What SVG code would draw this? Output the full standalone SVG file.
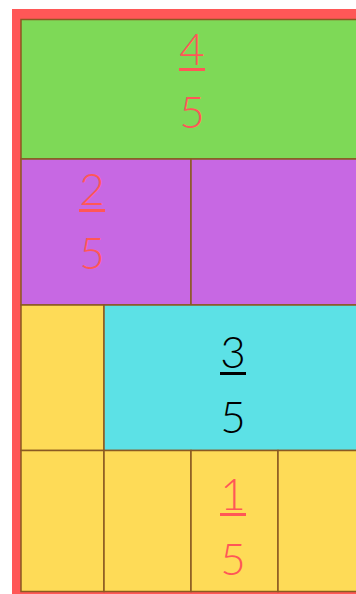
<svg xmlns="http://www.w3.org/2000/svg" width="356" height="594" viewBox="0 0 356 594">
<style>
.cell{stroke:#8a5a22;stroke-width:1.5}
.g{fill:#7ed957}.p{fill:#c768e3}.c{fill:#5ce1e6}.y{fill:#fedb57}
.t{font-family:"Lato","Open Sans",sans-serif;font-weight:300;font-size:44px;text-anchor:middle}
.red{fill:#ff5757}.blk{fill:#000}
</style>
<rect x="0" y="0" width="356" height="594" fill="#ffffff"/>
<g id="frame"><rect x="12" y="9" width="400" height="600" fill="#ff5757"/></g>
<g id="row-green"><rect class="cell g" x="21" y="19.5" width="360" height="139.5"/></g>
<g id="row-purple">
<rect class="cell p" x="21" y="159" width="170" height="146"/>
<rect class="cell p" x="191" y="159" width="190" height="146"/>
</g>
<g id="row-cyan">
<rect class="cell y" x="21" y="305" width="83" height="145.5"/>
<rect class="cell c" x="104" y="305" width="277" height="145.5"/>
</g>
<g id="row-yellow">
<rect class="cell y" x="21" y="450.5" width="83" height="141"/>
<rect class="cell y" x="104" y="450.5" width="87" height="141"/>
<rect class="cell y" x="191" y="450.5" width="87" height="141"/>
<rect class="cell y" x="278" y="450.5" width="103" height="141"/>
</g>
<g id="frac-4-5">
<text class="t red" x="192" y="65">4</text>
<rect class="red" x="179" y="68" width="26" height="3"/>
<text class="t red" x="192" y="128">5</text>
</g>
<g id="frac-2-5">
<text class="t red" x="92" y="205">2</text>
<rect class="red" x="79" y="209" width="26" height="3"/>
<text class="t red" x="92" y="269">5</text>
</g>
<g id="frac-3-5">
<text class="t blk" x="233" y="368">3</text>
<rect class="blk" x="220" y="372" width="26" height="3"/>
<text class="t blk" x="233" y="433">5</text>
</g>
<g id="frac-1-5">
<text class="t red" x="233" y="510">1</text>
<rect class="red" x="220" y="513" width="26" height="3"/>
<text class="t red" x="233" y="575">5</text>
</g>
</svg>
